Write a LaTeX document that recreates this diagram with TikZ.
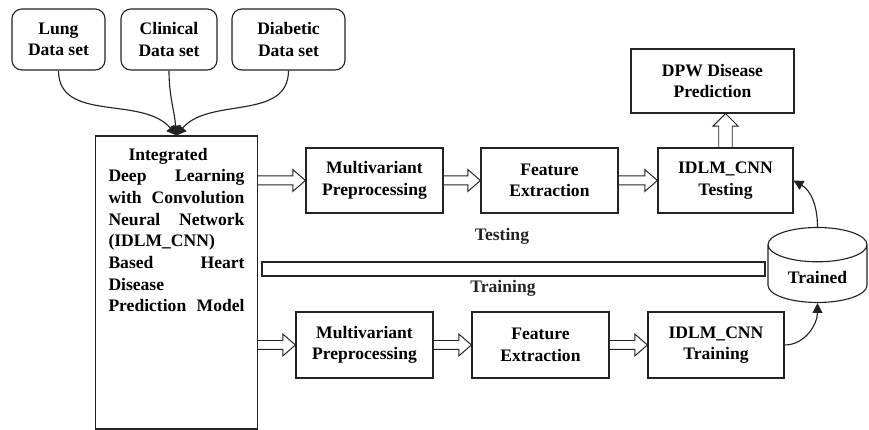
\documentclass[tikz,border=0pt]{standalone}
\usepackage{fontspec}
\setmainfont{Liberation Serif}
\usepackage{tikz}
\usetikzlibrary{shapes.geometric, arrows.meta, positioning, calc}
\definecolor{mydark}{RGB}{35,35,35}
\newcommand{\boxfont}{\fontsize{12.5}{15.4}\selectfont\bfseries}
\newcommand{\jline}[1]{\makebox[\linewidth][s]{#1}}
\tikzset{
  databox/.style={rectangle, draw=mydark, fill=white, rounded corners=7pt,
    align=center, font=\boxfont, line width=0.8pt, minimum height=1.525cm},
  stage/.style={rectangle, draw=mydark, fill=white, align=center,
    font=\boxfont, line width=0.8pt, minimum width=3.425cm, minimum height=1.625cm},
  store/.style={cylinder, shape border rotate=90, aspect=0.5, draw=mydark,
    font=\boxfont, line width=0.8pt, minimum width=2.475cm, minimum height=1.875cm},
  phase/.style={font=\boxfont, color=mydark},
  curvearrow/.style={-{Triangle[width=7pt,length=7pt]}, line width=0.8pt, color=mydark},
  shafthalf/.store in=\shafthalf, shafthalf=3.2pt,
  headhalf/.store in=\headhalf, headhalf=7.8pt,
  fatarrow/.style={line width=0.7pt, color=mydark, to path={
      ($(\tikztostart)!\shafthalf!90:(\tikztotarget)$)
   -- ($(\tikztotarget)!9pt!(\tikztostart)!\shafthalf!90:(\tikztotarget)$)
   -- ($(\tikztotarget)!9pt!(\tikztostart)!\headhalf!90:(\tikztotarget)$)
   -- (\tikztotarget)
   -- ($(\tikztotarget)!9pt!(\tikztostart)!\headhalf!-90:(\tikztotarget)$)
   -- ($(\tikztotarget)!9pt!(\tikztostart)!\shafthalf!-90:(\tikztotarget)$)
   -- ($(\tikztostart)!\shafthalf!-90:(\tikztotarget)$)}}
}
\begin{document}
\begin{tikzpicture}
  \useasboundingbox (0,0) rectangle (21.725,10.75);
  % Data sets
  \node[databox, minimum width=2.325cm] (lung) at (1.4625,9.7625) {Lung\\Data set};
  \node[databox, minimum width=2.4cm] (clin) at (4.225,9.7625) {Clinical\\Data set};
  \node[databox, minimum width=2.825cm] (diab) at (7.2125,9.7625) {Diabetic\\Data set};

  % Model box
  \node[draw=mydark, line width=0.8pt, font=\boxfont, inner xsep=0.325cm, inner ysep=0.3cm]
    (model) at (4.4125,3.6875) {\begin{minipage}[t][6.725cm][t]{3.4cm}
      \hspace*{0.5cm}Integrated\\
      \jline{Deep Learning}\\
      \jline{with Convolution}\\
      \jline{Neural Network}\\
      (IDLM\_CNN)\\
      \jline{Based Heart}\\
      Disease\\
      \jline{Prediction Model}
    \end{minipage}};

  % Testing row
  \node[stage] (tmpre) at (9.3625,6.2375) {Multivariant\\Preprocessing};
  \node[stage] (tfeat) at (13.7375,6.2375) {Feature\\Extraction};
  \node[stage, minimum width=3.375cm] (ttest) at (18.1375,6.2375) {IDLM\_CNN\\Testing};
  \node[stage, minimum width=4.075cm, minimum height=1.6cm] (dpw) at (17.8125,8.725) {DPW Disease\\Prediction};

  % Training row
  \node[stage, minimum height=1.65cm] (rpre) at (9.1125,2.125) {Multivariant\\Preprocessing};
  \node[stage, minimum height=1.65cm] (rfeat) at (13.5125,2.125) {Feature\\Extraction};
  \node[stage, minimum width=3.4cm, minimum height=1.65cm] (rtrain) at (17.9,2.125) {IDLM\_CNN\\Training};

  % Trained model store
  \node[store] (trained) at (20.4375,3.8125) {Trained};

  % Separator bar
  \draw[line width=0.8pt, color=mydark] (6.55,3.85) rectangle (19.125,4.2);
  \node[phase] (testing) at (12.55,4.85) {Testing};
  \node[phase] (training) at (12.575,3.55) {Training};

  % Inputs
  \draw[curvearrow] (lung.south) to[out=-90, in=130] (model.north);
  \draw[curvearrow] (clin.south) to[out=-90, in=95] (model.north);
  \draw[curvearrow] (diab.south) to[out=-90, in=50] (model.north);

  % Flow arrows
  \coordinate (mtest) at (model.east |- tmpre.west);
  \coordinate (mtrain) at (model.east |- rpre.west);
  \coordinate (dpwin) at (ttest.north |- dpw.south);
  \draw[fatarrow] (mtest) to (tmpre.west);
  \draw[fatarrow] (tmpre.east) to (tfeat.west);
  \draw[fatarrow] (tfeat.east) to (ttest.west);
  \draw[fatarrow, shafthalf=4.8pt, headhalf=9pt] (ttest.north) to (dpwin);
  \draw[fatarrow] (mtrain) to (rpre.west);
  \draw[fatarrow] (rpre.east) to (rfeat.west);
  \draw[fatarrow] (rfeat.east) to (rtrain.west);

  \draw[curvearrow] (rtrain.east) to[out=0, in=-90] (trained.south);
  \draw[curvearrow] (trained.north) to[out=90, in=-30] (ttest.east);
\end{tikzpicture}
\end{document}
